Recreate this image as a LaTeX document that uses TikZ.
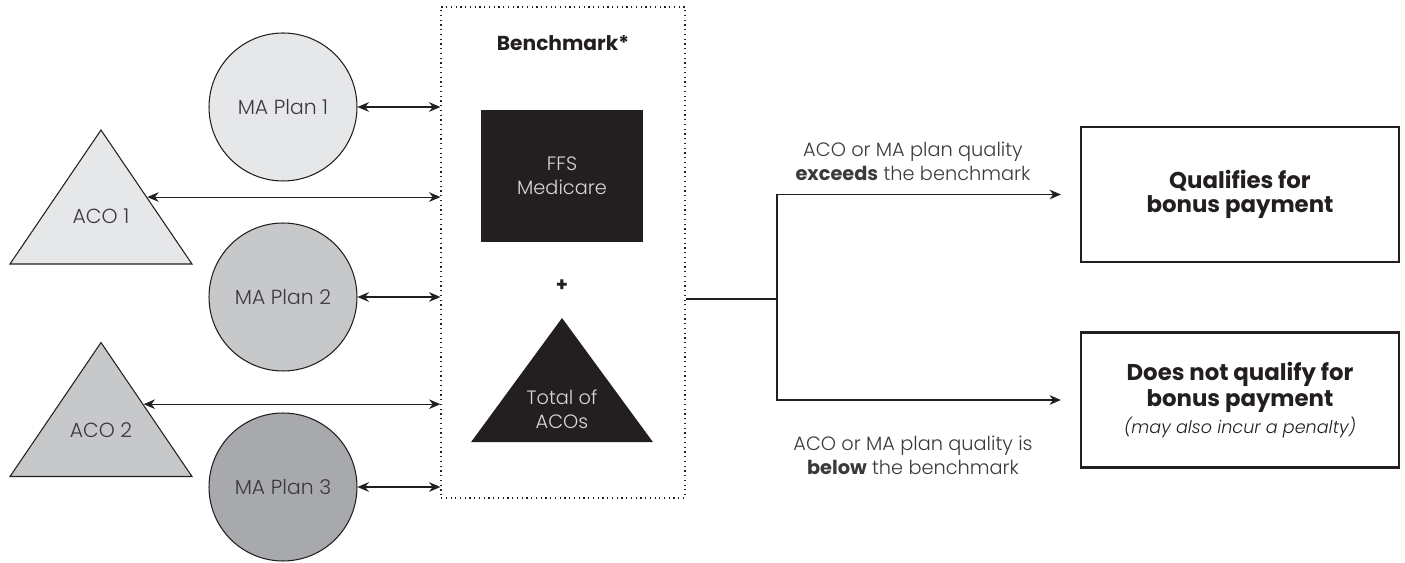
\documentclass[tikz,border=0pt]{standalone}
\usepackage{fontspec}
\setmainfont{Poppins}[UprightFont=* Light, BoldFont=* Bold, ItalicFont=* Light Italic]
\usetikzlibrary{positioning,shapes.geometric,arrows.meta}
\definecolor{planlight}{HTML}{E6E7E8}
\definecolor{planmid}{HTML}{C7C8CA}
\definecolor{plandark}{HTML}{A7A9AC}
\definecolor{inkblack}{HTML}{231F20}
\definecolor{labelgray}{HTML}{3A3A3C}
\definecolor{paletext}{HTML}{D8D8D8}
\tikzstyle{plan}=[circle, draw=inkblack, line width=0.6pt, minimum size=2.96cm, inner sep=0pt, text=labelgray, font=\fontsize{11.6}{14}\selectfont]
\tikzstyle{aco}=[isosceles triangle, isosceles triangle stretches, shape border rotate=90, draw=inkblack, line width=0.6pt, minimum width=3.64cm, minimum height=2.68cm, inner sep=0pt, text=labelgray, font=\fontsize{11.6}{14}\selectfont]
\tikzstyle{outcome}=[rectangle, draw=inkblack, line width=1.3pt, minimum width=6.36cm, minimum height=2.7cm, align=center, text=inkblack]
\tikzstyle{note}=[align=center, text=labelgray]
\tikzset{>={Stealth[length=6.5pt,width=5.5pt]}}

\begin{document}
\begin{tikzpicture}[x=0.02cm, y=-0.02cm, font=\fontsize{11}{13.6}\selectfont]
    \useasboundingbox (0,0) rectangle (1405,563);

        \node(bench)[draw=inkblack, dotted, line width=0.7pt, minimum width=4.88cm, minimum height=9.82cm] at (563,252.5) {};
        \node(benchTitle)[below=0.45cm of bench.north, text=inkblack, font=\fontsize{11.5}{14}\selectfont]{\bfseries Benchmark*};

        \node(ffs)[rectangle, fill=inkblack, minimum width=3.24cm, minimum height=2.64cm, align=center, text=paletext] at (562,176) {FFS\\Medicare};
        \node(plus)[below=0.62cm of ffs, text=inkblack]{\bfseries +};
        \node(acoTotal)[aco, draw=none, fill=inkblack, minimum height=2.48cm, text=paletext, align=center, font=\fontsize{11}{13.6}\selectfont] at (562,409) {Total of\\ACOs};

        \node(mp1)[plan, fill=planlight] at (283,107) {MA Plan 1};
        \node(mp2)[plan, fill=planmid] at (283,297) {MA Plan 2};
        \node(mp3)[plan, fill=plandark] at (283,487) {MA Plan 3};
        \node(aco1)[aco, fill=planlight, text depth=0.39cm] at (101,226) {ACO 1};
        \node(aco2)[aco, fill=planmid, text depth=0.39cm] at (101,440) {ACO 2};

        \foreach \x in {mp1,mp2,mp3}{
            \draw [<->, line width=0.6pt, inkblack] (\x.east) -- (\x.east -| bench.west);
        };
        \foreach \x/\a in {aco1/32,aco2/40}{
            \draw [<->, line width=0.6pt, inkblack] (\x.\a) -- (\x.\a -| bench.west);
        };

        \node(qualifies)[outcome, font=\fontsize{13}{13.5}\selectfont] at (1240,194.5) {\bfseries Qualifies for\\\bfseries bonus payment};
        \node(noQualify)[outcome, font=\fontsize{13}{15}\selectfont] at (1240,400) {\bfseries Does not qualify for\\\bfseries bonus payment\\\fontsize{10}{14}\selectfont\itshape (may also incur a penalty)};

        \coordinate (split) at (777,299);
        \draw [line width=0.6pt, inkblack] (split -| bench.east) -- (split);
        \draw [->, line width=0.6pt, inkblack] (split) |- ([xshift=-0.38cm]qualifies.west);
        \draw [->, line width=0.6pt, inkblack] (split) |- ([xshift=-0.38cm]noQualify.west);

        \node(exceedsDesc)[note] at (913,161) {ACO or MA plan quality\\\textbf{exceeds} the benchmark};
        \node(belowDesc)[note] at (913,455) {ACO or MA plan quality is\\\textbf{below} the benchmark};

    \end{tikzpicture}
\end{document}
